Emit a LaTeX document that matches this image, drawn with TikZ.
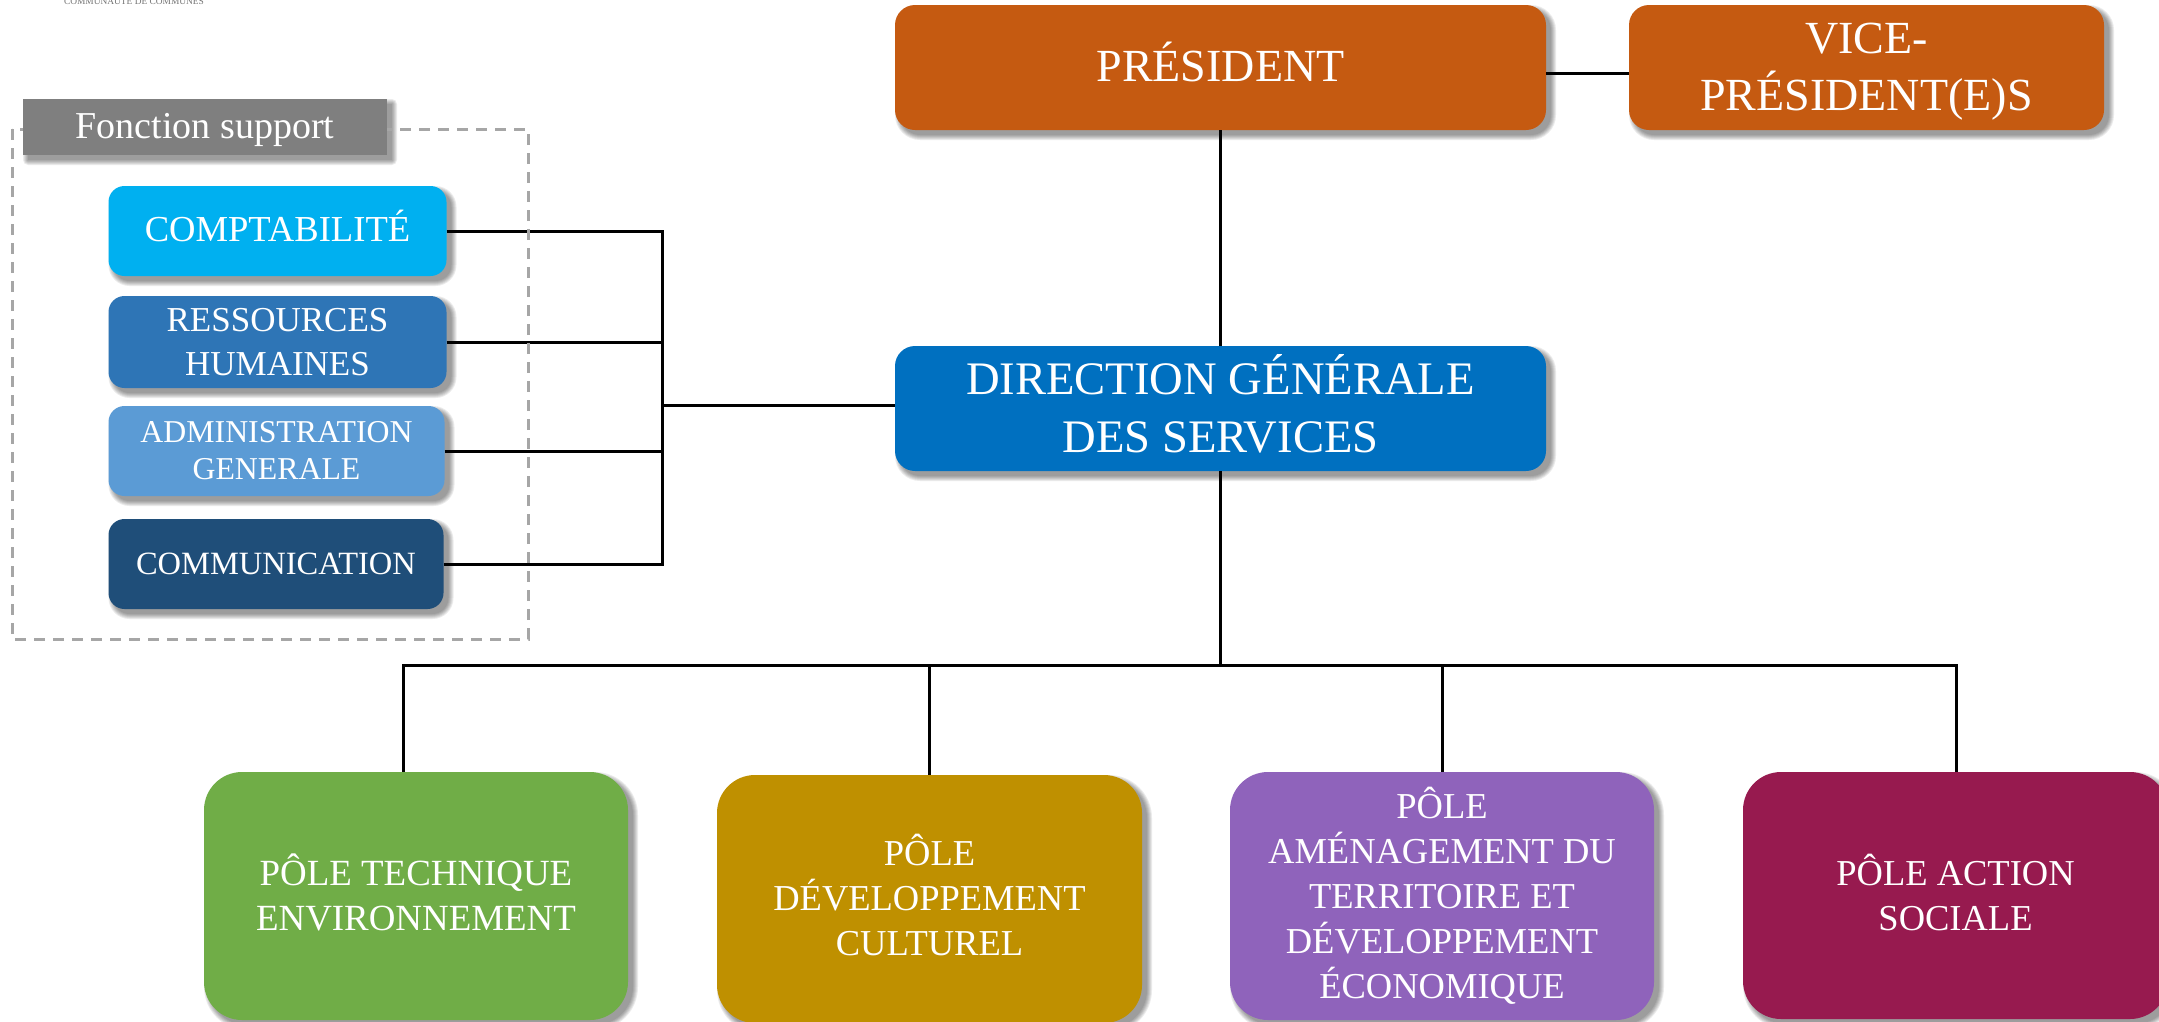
\documentclass[tikz,border=0pt]{standalone}
\usepackage{fontspec}
\setmainfont{Liberation Serif}
\pgfdeclarelayer{shadowlayer}
\pgfsetlayers{shadowlayer,main}
\definecolor{orangeB}{HTML}{C55A11}
\definecolor{blueDG}{HTML}{0070C0}
\definecolor{blueA}{HTML}{00B0F0}
\definecolor{blueB}{HTML}{2E75B6}
\definecolor{blueC}{HTML}{5B9BD5}
\definecolor{blueD}{HTML}{1F4E79}
\definecolor{grayB}{HTML}{7F7F7F}
\definecolor{greenB}{HTML}{70AD47}
\definecolor{yellowB}{HTML}{BF9000}
\definecolor{purpleB}{HTML}{8F63BB}
\definecolor{maroonB}{HTML}{971A4F}
\definecolor{dashG}{HTML}{A6A6A6}
\tikzset{
  boxbase/.style={rectangle,text=white,align=center,inner sep=0pt,outer sep=0pt},
  topbox/.style={boxbase,rounded corners=20pt,font=\fontsize{46}{57}\selectfont},
  supbox/.style={boxbase,rounded corners=16pt},
  polebox/.style={boxbase,rounded corners=38pt,font=\fontsize{36.5}{45}\selectfont},
  link/.style={draw=black,line width=3pt},
  dashbox/.style={draw=dashG,line width=3pt,dash pattern=on 11pt off 8pt},
  softlayer/.style={fill=black,opacity=.08},
}
% blurred shadow of a named box: stacked translucent rectangles, lower right of the box
\newcommand\softshadow[2]{%
  \foreach \g in {5,4,3,2,1,0}{%
    \pgfmathsetmacro\rr{#2+\g}%
    \fill[softlayer,rounded corners=\rr pt]
      ([xshift={(5-\g)*1pt},yshift={(-5+\g)*1pt}]#1.north west) rectangle
      ([xshift={(5+\g)*1pt},yshift={(-5-\g)*1pt}]#1.south east);
  }%
}
\begin{document}
\begin{tikzpicture}[x=1pt,y=-1pt]
\useasboundingbox (0,0) rectangle (2159,1021);
% boxes
\node[topbox,fill=orangeB,minimum width=651pt,minimum height=125pt,text depth=11pt] (pres) at (1220.5,67.5) {PRÉSIDENT};
\node[topbox,fill=orangeB,minimum width=475pt,minimum height=125pt] (vp) at (1866.5,67.5) {\rule{0pt}{38pt}VICE-\\PRÉSIDENT(E)S};
\node[topbox,fill=blueDG,minimum width=651pt,minimum height=125pt,text depth=11pt,font=\fontsize{46.6}{58}\selectfont] (dg) at (1220.5,408.5) {DIRECTION GÉNÉRALE\\DES SERVICES};
\node[supbox,fill=blueA,minimum width=338pt,minimum height=90pt,text depth=11pt,font=\fontsize{36.6}{44}\selectfont] (compta) at (277.5,231) {COMPTABILITÉ};
\node[supbox,fill=blueB,minimum width=338pt,minimum height=92pt,font=\fontsize{35}{44}\selectfont] (rh) at (277.5,342) {RESSOURCES\\HUMAINES};
\node[supbox,fill=blueC,minimum width=336pt,minimum height=90pt,font=\fontsize{31.8}{37}\selectfont] (admin) at (276.5,451) {ADMINISTRATION\\GENERALE};
\node[supbox,fill=blueD,minimum width=335pt,minimum height=90pt,font=\fontsize{32.5}{38}\selectfont] (comm) at (276,564) {COMMUNICATION};
\node[polebox,fill=greenB,minimum width=424pt,minimum height=248pt,text depth=7pt,font=\fontsize{36.9}{45}\selectfont] (p1) at (416,896) {PÔLE TECHNIQUE\\ENVIRONNEMENT};
\node[polebox,fill=yellowB,minimum width=425pt,minimum height=248pt,text depth=8.5pt] (p2) at (929.5,899) {PÔLE\\DÉVELOPPEMENT\\CULTUREL};
\node[polebox,fill=purpleB,minimum width=424pt,minimum height=248pt] (p3) at (1442,896) {PÔLE\\AMÉNAGEMENT DU\\TERRITOIRE ET\\DÉVELOPPEMENT\\ÉCONOMIQUE};
\node[polebox,fill=maroonB,minimum width=425pt,minimum height=247pt,text depth=7pt] (p4) at (1955.5,895.5) {PÔLE ACTION\\SOCIALE};
% junctions
\coordinate (pj) at (1546,73);
\coordinate (busT) at (662.5,231);
\coordinate (busB) at (662.5,564);
\coordinate (busJ) at (662.5,405);
\coordinate (busL) at (403.5,665);
\coordinate (busR) at (1956,665);
% connectors
\draw[link] (pj) -- (pj -| vp.west);
\draw[link] (pres) -- (dg);
\draw[link] (compta.east) -- (busT);
\draw[link] (rh.east) -- (rh.east -| busT);
\draw[link] (admin.east) -- (admin.east -| busT);
\draw[link] (comm.east) -- (busB);
\draw[link,line cap=rect] (busT) -- (busB);
\draw[link] (busJ) -- (busJ -| dg.west);
\draw[link] (dg.south) -- (dg.south |- busL);
\draw[link,line cap=rect] (busL) -- (busR);
\draw[link] (busL) -- (busL |- p1.north);
\draw[link] (p2.north |- busL) -- (p2.north);
\draw[link] (p3.north |- busL) -- (p3.north);
\draw[link] (busR) -- (busR |- p4.north);
% dashed frame
\coordinate (frameA) at (12,129);
\coordinate (frameB) at (528,639);
\draw[dashbox] (frameA) rectangle (frameB);
\node[boxbase,fill=grayB,minimum width=364pt,minimum height=56pt,font=\fontsize{38}{44}\selectfont] (fs) at (205,127) {\rule{0pt}{31pt}Fonction support};
% logo caption, cut by the top edge
\node[text=black!55,font=\fontsize{9.4}{9.4}\selectfont,inner sep=0pt] (logo) at (134,1) {COMMUNAUTE DE COMMUNES};
% shadows
\begin{pgfonlayer}{shadowlayer}
\softshadow{pres}{20}
\softshadow{vp}{20}
\softshadow{dg}{20}
\softshadow{compta}{16}
\softshadow{rh}{16}
\softshadow{admin}{16}
\softshadow{comm}{16}
\softshadow{p1}{38}
\softshadow{p2}{38}
\softshadow{p3}{38}
\softshadow{p4}{38}
\softshadow{fs}{0}
\end{pgfonlayer}
\end{tikzpicture}
\end{document}
